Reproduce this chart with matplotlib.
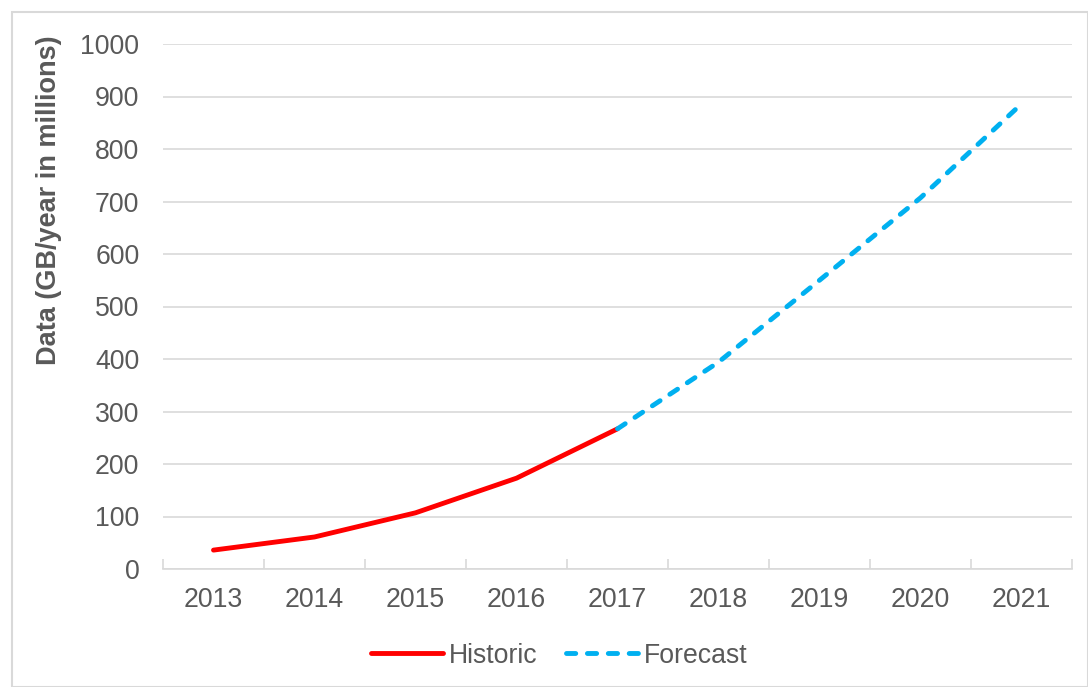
import numpy as np
import matplotlib.pyplot as plt
from matplotlib.patches import Rectangle

plt.rcParams['font.family'] = ['Liberation Sans', 'DejaVu Sans']

years = ["2013", "2014", "2015", "2016", "2017", "2018", "2019", "2020", "2021"]
historic = [36, 61, 107, 173, 267]
forecast = [267, 394, 550, 707, 886]

TXT = "#595959"
GRID = "#d9d9d9"

fig = plt.figure(figsize=(10.88, 6.87), dpi=100)
# outer chart border
fig.patches.append(Rectangle((12 / 1088, 0), 1 - 12 / 1088, 1 - 12 / 687, transform=fig.transFigure,
                             fill=False, edgecolor=GRID, linewidth=1.5))
ax = fig.add_axes([163 / 1088, 1 - 569 / 687, 909 / 1088, 525 / 687])

x = np.arange(len(years))
ax.plot(x[:5], historic, color="#ff0000", linewidth=3.5, solid_capstyle="round", label="Historic")
ax.plot(x[4:], forecast, color="#00b0f0", linewidth=3.5, linestyle=(0, (1.9, 2.4)),
        dash_capstyle="round", label="Forecast")

ax.set_xlim(-0.5, len(years) - 0.5)
ax.set_ylim(0, 1000)
ax.set_yticks(np.arange(0, 1001, 100))
ax.set_xticks(x)
ax.set_xticklabels(years)
ax.set_xticks(np.arange(-0.5, len(years)), minor=True)
ax.tick_params(axis="x", which="major", length=0, pad=13, labelsize=19.2, labelcolor=TXT)
ax.tick_params(axis="x", which="minor", length=7, width=1.2, color=GRID, direction="in")
ax.tick_params(axis="y", length=0, pad=17, labelsize=19.2, labelcolor=TXT)
ax.yaxis.grid(True, color=GRID, linewidth=1.2)
ax.set_axisbelow(True)
for s in ["top", "right", "left"]:
    ax.spines[s].set_visible(False)
ax.spines["bottom"].set_color(GRID)
ax.spines["bottom"].set_linewidth(1.2)

ax.set_ylabel("Data (GB/year in millions)", fontsize=19.5, fontweight="bold", color=TXT)
ax.yaxis.set_label_coords(-0.111, 0.703)

ax.legend(loc="center", bbox_to_anchor=(0.436, -0.165), ncol=2, frameon=False, fontsize=19.2,
          labelcolor=TXT, handlelength=2.7, handletextpad=0.22, columnspacing=1.1)

fig.savefig("out.png", dpi=100)
